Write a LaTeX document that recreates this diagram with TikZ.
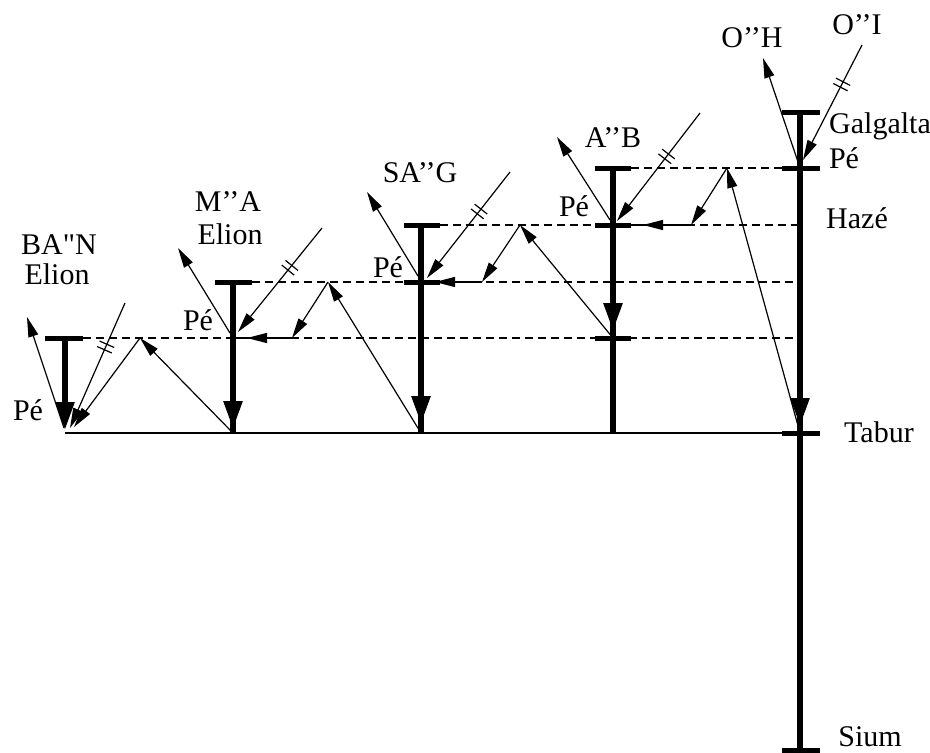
\documentclass[tikz,border=0pt]{standalone}
\usepackage{fontspec}
\setmainfont{Liberation Serif}[Ligatures=TeXOff]
\usetikzlibrary{arrows.meta,calc}
\newcommand\dticks[3]{%
  \draw[tickline] ($(#1)!#3!(#2)!8pt!90:(#2)$) -- ($(#1)!#3!(#2)!8pt!-90:(#2)$);
  \draw[tickline] ($(#1)!#3!(#2)!6pt!(#2)!8pt!90:(#2)$) -- ($(#1)!#3!(#2)!6pt!(#2)!8pt!-90:(#2)$);}
\begin{document}
\begin{tikzpicture}[x=1pt,y=-1pt,
  thickv/.style={line width=5.5pt},
  barline/.style={line width=5pt},
  thinline/.style={line width=1.2pt},
  thinarrow/.style={thinline,-{Triangle[length=20pt,width=10pt]}},
  bigarrow/.style={line width=5.5pt,-{Triangle[length=28pt,width=18pt]}},
  dashline/.style={line width=1.2pt,dash pattern=on 8pt off 5pt},
  tickline/.style={line width=1.2pt},
  lbl/.style={font=\fontsize{30}{32}\selectfont,inner sep=0pt}]
\useasboundingbox (0,0) rectangle (930,753);
% ---------- coordinates ----------
% column 1
\coordinate (t1) at (65,338); \coordinate (p1) at (65,433);
\coordinate (e1s) at (64,428); \coordinate (e1e) at (27,317);
\coordinate (i1s) at (125,303); \coordinate (i1e) at (70,428);
\coordinate (k1) at (140,338); \coordinate (r1e) at (74,427);
% column 2
\coordinate (t2) at (233,282); \coordinate (b2) at (233,433); \coordinate (p2) at (233,338);
\coordinate (e2s) at (230,333); \coordinate (e2e) at (178,248);
\coordinate (i2s) at (322,228); \coordinate (i2e) at (238,332);
\coordinate (k2) at (328,282); \coordinate (f2) at (292,338); \coordinate (h2) at (247,338);
% column 3
\coordinate (t3) at (421,225); \coordinate (b3) at (421,433); \coordinate (p3) at (421,282);
\coordinate (e3s) at (418,276); \coordinate (e3e) at (367,192);
\coordinate (i3s) at (510,172); \coordinate (i3e) at (427,278);
\coordinate (k3) at (520,225); \coordinate (f3) at (482,282); \coordinate (h3) at (435,282);
% column 4
\coordinate (t4) at (613,168); \coordinate (b4) at (613,433); \coordinate (p4) at (613,225); \coordinate (m4) at (613,338);
\coordinate (e4s) at (610,220); \coordinate (e4e) at (557,137);
\coordinate (i4s) at (700,113); \coordinate (i4e) at (617,221);
\coordinate (k4) at (727,168); \coordinate (f4) at (691,225); \coordinate (h4) at (643,225);
% column 5
\coordinate (t5) at (800,112); \coordinate (p5) at (800,168); \coordinate (tab) at (800,433); \coordinate (s5) at (800,750);
\coordinate (e5s) at (798,162); \coordinate (e5e) at (763,58);
\coordinate (i5s) at (862,45); \coordinate (i5e) at (803,160);
% ---------- dashed levels ----------
\draw[dashline] (83,338) -- (800,338);
\draw[dashline] (252,282) -- (800,282);
\draw[dashline] (440,225) -- (800,225);
\draw[dashline] (631,168) -- (782,168);
% Tabur line
\draw[line width=1.8pt] (p1) -- (tab);
% ---------- thin lines ----------
% col 1
\draw[thinarrow] (e1s) -- (e1e);
\draw[thinarrow] (i1s) -- (i1e); \dticks{i1s}{i1e}{0.33}
\draw[thinarrow] (b2) -- (k1);
\draw[thinarrow] (k1) -- (r1e);
% col 2
\draw[thinarrow] (e2s) -- (e2e);
\draw[thinarrow] (i2s) -- (i2e); \dticks{i2s}{i2e}{0.36}
\draw[thinarrow] (b3) -- (k2);
\draw[thinarrow] (k2) -- (f2);
\draw[thinline] (f2) -- (p2);
\draw[thinarrow] (f2) -- (h2);
% col 3
\draw[thinarrow] (e3s) -- (e3e);
\draw[thinarrow] (i3s) -- (i3e); \dticks{i3s}{i3e}{0.35}
\draw[thinarrow] (m4) -- (k3);
\draw[thinarrow] (k3) -- (f3);
\draw[thinline] (f3) -- (p3);
\draw[thinarrow] (f3) -- (h3);
% col 4
\draw[thinarrow] (e4s) -- (e4e);
\draw[thinarrow] (i4s) -- (i4e); \dticks{i4s}{i4e}{0.38}
\draw[thinarrow] (tab) -- (k4);
\draw[thinarrow] (k4) -- (f4);
\draw[thinline] (f4) -- (p4);
\draw[thinarrow] (f4) -- (h4);
% col 5
\draw[thinarrow] (e5s) -- (e5e);
\draw[thinarrow] (i5s) -- (i5e); \dticks{i5s}{i5e}{0.32}
% ---------- thick verticals and bars ----------
% col 1
\draw[barline] ($(t1)+(-20,0)$) -- ($(t1)+(18,0)$);
\draw[bigarrow] (t1) -- ($(p1)+(0,-3)$);
% col 2
\draw[barline] ($(t2)+(-18,0)$) -- ($(t2)+(19,0)$);
\draw[bigarrow] (t2) -- ($(b2)+(0,-4)$);
\draw[thickv] (t2) -- (b2);
% col 3
\draw[barline] ($(t3)+(-17,0)$) -- ($(t3)+(19,0)$);
\draw[barline] ($(p3)+(-17,0)$) -- ($(p3)+(19,0)$);
\draw[thickv] (t3) -- (b3);
\draw[bigarrow] (t3) -- ($(b3)+(0,-9)$);
% col 4
\draw[barline] ($(t4)+(-18,0)$) -- ($(t4)+(18,0)$);
\draw[barline] ($(p4)+(-18,0)$) -- ($(p4)+(18,0)$);
\draw[barline] ($(m4)+(-18,0)$) -- ($(m4)+(18,0)$);
\draw[thickv] (t4) -- (b4);
\draw[bigarrow] (t4) -- ($(m4)+(0,-7)$);
% col 5
\draw[barline] ($(t5)+(-18,0)$) -- ($(t5)+(20,0)$);
\draw[barline] ($(p5)+(-18,0)$) -- ($(p5)+(20,0)$);
\draw[barline] ($(tab)+(-18,0)$) -- ($(tab)+(20,0)$);
\draw[barline] ($(s5)+(-18,0)$) -- ($(s5)+(20,0)$);
\draw[thickv] (t5) -- (s5);
\draw[bigarrow] (p5) -- ($(tab)+(0,-7)$);
% ---------- labels ----------
\node[lbl] (lban) at (59,245) {BA"N};
\node[lbl] (lel1) at (57,274) {Elion};
\node[lbl] (lpe1) at (28,410) {Pé};
\node[lbl] (lma) at (228,202) {M’’A};
\node[lbl] (lel2) at (230,234) {Elion};
\node[lbl] (lpe2) at (198,320) {Pé};
\node[lbl] (lsag) at (420,173) {SA’’G};
\node[lbl] (lpe3) at (388,267) {Pé};
\node[lbl] (lab) at (613,138) {A’’B};
\node[lbl] (lpe4) at (574,206) {Pé};
\node[lbl] (loh) at (752,38) {O’’H};
\node[lbl] (loi) at (857,25) {O’’I};
\node[lbl] (lgal) at (880,126) {Galgalta};
\node[lbl] (lpe5) at (844,158) {Pé};
\node[lbl] (lhaz) at (857,218) {Hazé};
\node[lbl] (ltab) at (879,432) {Tabur};
\node[lbl] (lsium) at (870,737) {Sium};
\end{tikzpicture}
\end{document}
